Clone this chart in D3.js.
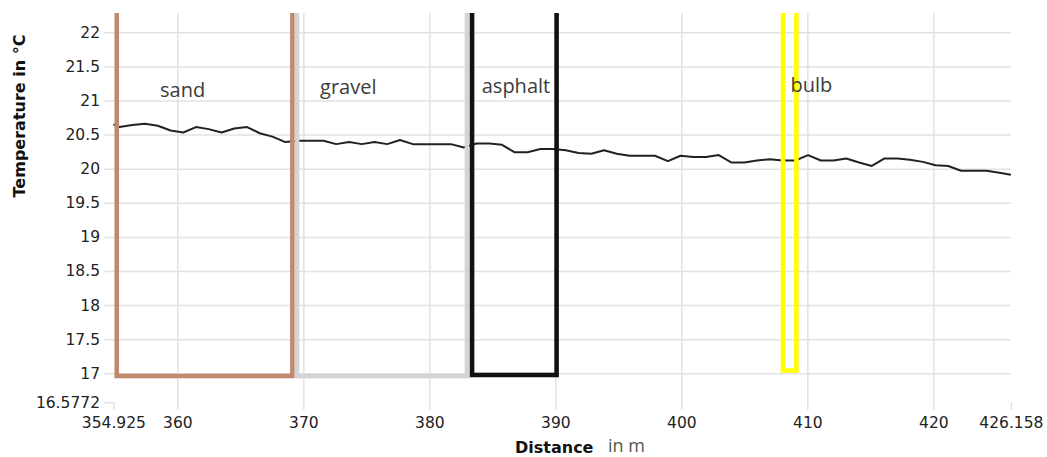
<!DOCTYPE html>
<html>
<head>
<meta charset="utf-8">
<script src="https://cdn.jsdelivr.net/npm/d3@7"></script>
<style>
  body { margin: 0; background: #fff; }
  svg { display: block; }
</style>
</head>
<body>
<svg id="chart" width="1047" height="457"></svg>
<script>
// measured profile: distance in m, temperature in °C
var distance = [354.925, 355.41, 356.42, 357.43, 358.45, 359.46, 360.47, 361.48, 362.49, 363.51,
    364.52, 365.53, 366.54, 367.55, 368.57, 369.58, 370.59, 371.60, 372.61, 373.63,
    374.64, 375.65, 376.66, 377.67, 378.69, 379.70, 380.71, 381.72, 382.73, 383.75,
    384.76, 385.77, 386.78, 387.79, 388.81, 389.82, 390.83, 391.84, 392.85, 393.87,
    394.88, 395.89, 396.90, 397.91, 398.93, 399.94, 400.95, 401.96, 402.97, 403.99,
    405.00, 406.01, 407.02, 408.03, 409.05, 410.06, 411.07, 412.08, 413.09, 414.11,
    415.12, 416.13, 417.14, 418.15, 419.17, 420.18, 421.19, 422.20, 423.21, 424.23,
    425.24, 426.158]
var temperature = [20.65, 20.61, 20.64, 20.66, 20.63, 20.56, 20.53, 20.61, 20.58, 20.53,
    20.59, 20.61, 20.52, 20.47, 20.39, 20.41, 20.41, 20.41, 20.36, 20.39,
    20.36, 20.39, 20.36, 20.42, 20.36, 20.36, 20.36, 20.36, 20.31, 20.37,
    20.37, 20.35, 20.24, 20.24, 20.29, 20.29, 20.27, 20.23, 20.22, 20.27,
    20.22, 20.19, 20.19, 20.19, 20.11, 20.19, 20.17, 20.17, 20.20, 20.09,
    20.09, 20.12, 20.14, 20.12, 20.12, 20.20, 20.12, 20.12, 20.15, 20.09,
    20.04, 20.15, 20.15, 20.13, 20.10, 20.05, 20.04, 19.97, 19.97, 19.97,
    19.94, 19.91]

// surface sections marked on the profile
var surfaces = ['sand', 'gravel', 'asphalt', 'bulb']
var surfaceStart = [355.19, 369.50, 383.39, 408.07]
var surfaceEnd = [369.13, 382.99, 390.10, 409.13]
var surfaceBottom = [16.96, 16.96, 16.975, 17.04]
var surfaceLabelX = [358.63, 371.33, 384.16, 408.67]
var surfaceLabelY = [21.056, 21.09, 21.105, 21.13]

var xTicks = [354.925, 360, 370, 380, 390, 400, 410, 420, 426.158]
var yTicks = [16.5772, 17, 17.5, 18, 18.5, 19, 19.5, 20, 20.5, 21, 21.5, 22]

var surfaceColor = {sand: '#c08a6d', gravel: '#d4d4d4', asphalt: '#111111', bulb: '#ffff00'}

var plotLeft = 113.4, plotRight = 1010.9, plotTop = 13, plotBottom = 402.1
var plotW = plotRight - plotLeft, plotH = plotBottom - plotTop

var svg = d3.select('#chart')

var x = d3.scaleLinear().domain([354.925, 426.158]).range([0, plotW])
var y = d3.scaleLinear().domain([16.5772, 22.283]).range([plotH, 0])

var g = svg.append('g').attr('transform', 'translate(' + plotLeft + ',' + plotTop + ')')

// x axis with gridlines
var xAxis = g.append('g')
    .attr('transform', 'translate(0,' + plotH + ')')
    .call(d3.axisBottom(x).tickValues(xTicks).tickSize(-plotH).tickPadding(15)
        .tickFormat(function (d) { return String(d) }))
xAxis.select('.domain').remove()
xAxis.selectAll('.tick line')
    .attr('stroke', '#e2e2e2')
    .attr('stroke-width', 1.5)
    .attr('y1', 8)
    .attr('y2', function (d) { return (d === xTicks[0] || d === xTicks[xTicks.length - 1]) ? 0 : -plotH })
xAxis.selectAll('.tick text')
    .attr('fill', '#222')
    .style('font-family', 'DejaVu Sans, Verdana, sans-serif')
    .style('font-size', '15.5px')

// y axis with gridlines
var yAxis = g.append('g')
    .call(d3.axisLeft(y).tickValues(yTicks).tickSize(-plotW).tickPadding(13.4)
        .tickFormat(function (d) { return String(d) }))
yAxis.select('.domain').remove()
yAxis.selectAll('.tick line')
    .attr('stroke', '#e2e2e2')
    .attr('stroke-width', 1.5)
    .attr('x1', -9)
    .attr('x2', function (d) { return d === yTicks[0] ? 0 : plotW })
yAxis.selectAll('.tick text')
    .attr('fill', '#222')
    .style('font-family', 'DejaVu Sans, Verdana, sans-serif')
    .style('font-size', '15.5px')

// temperature line
var line = d3.line()
    .x(function (d, i) { return x(distance[i]) })
    .y(function (d) { return y(d) })

g.append('path')
    .datum(temperature)
    .attr('fill', 'none')
    .attr('stroke', '#222')
    .attr('stroke-width', 2)
    .attr('stroke-linejoin', 'round')
    .attr('d', line)

// surface boxes, clipped at the top of the plot
svg.append('defs').append('clipPath').attr('id', 'plotclip')
    .append('rect')
    .attr('x', 0).attr('y', 0).attr('width', plotW).attr('height', plotH + 40)

var boxes = g.append('g').attr('clip-path', 'url(#plotclip)')
boxes.selectAll('rect')
    .data(surfaces)
    .enter()
    .append('rect')
    .attr('x', function (d, i) { return x(surfaceStart[i]) })
    .attr('width', function (d, i) { return x(surfaceEnd[i]) - x(surfaceStart[i]) })
    .attr('y', y(22.6))
    .attr('height', function (d, i) { return y(surfaceBottom[i]) - y(22.6) })
    .attr('fill', 'none')
    .attr('stroke', function (d) { return surfaceColor[d] })
    .attr('stroke-width', 4.6)

g.selectAll('.surface-label')
    .data(surfaces)
    .enter()
    .append('text')
    .attr('class', 'surface-label')
    .attr('x', function (d, i) { return x(surfaceLabelX[i]) })
    .attr('y', function (d, i) { return y(surfaceLabelY[i]) })
    .attr('fill', '#3c3c3c')
    .style('font-family', 'Open Sans, sans-serif')
    .style('font-size', '20px')
    .text(function (d) { return d })

// axis titles
svg.append('text')
    .attr('transform', 'translate(25,116) rotate(-90)')
    .attr('text-anchor', 'middle')
    .attr('fill', '#111')
    .style('font-family', 'DejaVu Sans, Verdana, sans-serif')
    .style('font-weight', 'bold')
    .style('font-size', '16px')
    .text('Temperature in °C')

svg.append('text')
    .attr('x', 515)
    .attr('y', 452.5)
    .attr('fill', '#111')
    .style('font-family', 'DejaVu Sans, Verdana, sans-serif')
    .style('font-weight', 'bold')
    .style('font-size', '16px')
    .text('Distance')

svg.append('text')
    .attr('x', 608)
    .attr('y', 452)
    .attr('fill', '#57574a')
    .style('font-family', 'Open Sans, sans-serif')
    .style('font-size', '18px')
    .text('in m')
</script>
</body>
</html>
